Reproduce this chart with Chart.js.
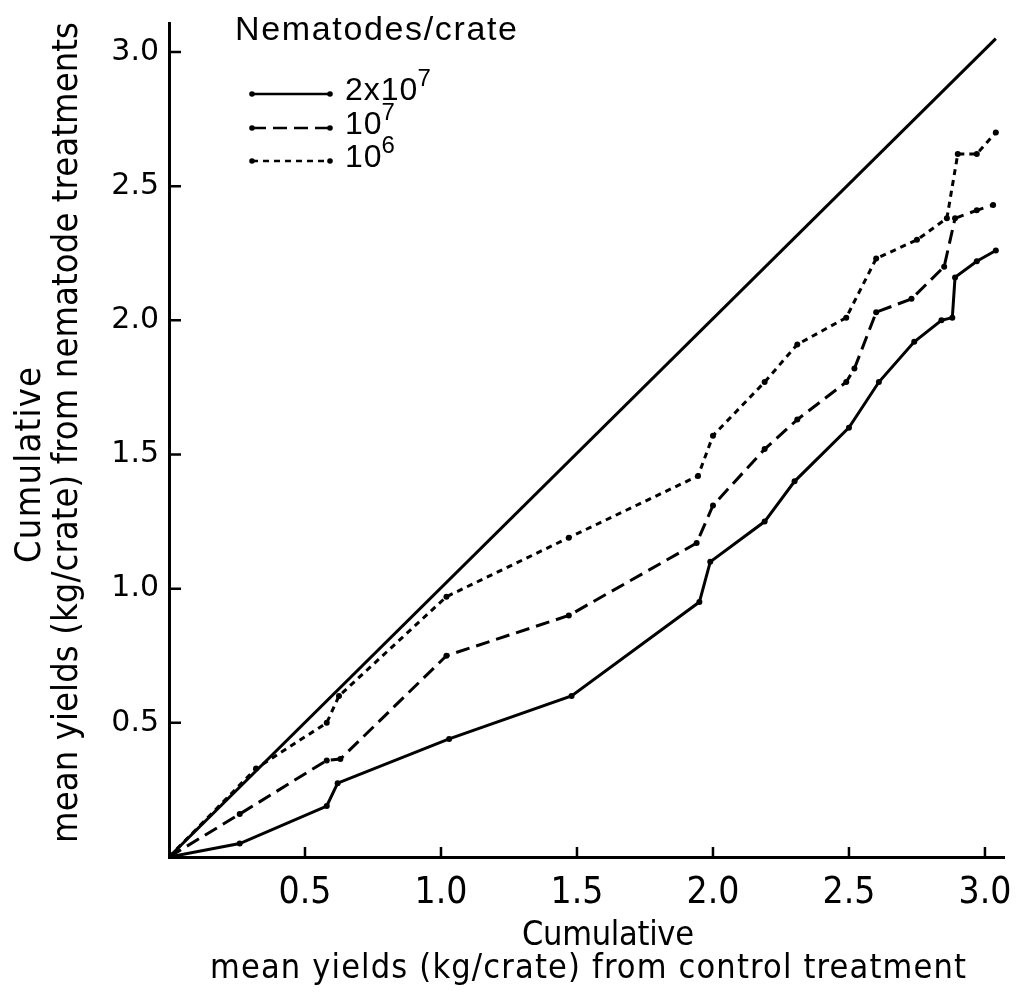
<!DOCTYPE html>
<html>
<head>
<meta charset="utf-8">
<script src="https://cdn.jsdelivr.net/npm/chart.js@4.4.1/dist/chart.umd.min.js"></script>
<style>
  html, body { margin: 0; padding: 0; background: #fff; }
  #wrap { width: 1017px; height: 993px; }
</style>
</head>
<body>
<div id="wrap"><canvas id="chart" width="1017" height="993"></canvas></div>
<script>
// cumulative mean yields: control (x) against nematode treatments (y)
const equalX = [0, 3.04];
const equalY = [0, 3.05];

// 2x10^7 nematodes/crate
const highX = [0, 0.26, 0.58, 0.62, 1.03, 1.48, 1.95, 1.99, 2.19, 2.30, 2.50, 2.61, 2.74, 2.84, 2.88, 2.89, 2.97, 3.04];
const highY = [0, 0.05, 0.19, 0.275, 0.44, 0.60, 0.95, 1.10, 1.25, 1.40, 1.60, 1.77, 1.92, 2.00, 2.01, 2.16, 2.22, 2.26];

// 10^7 nematodes/crate
const midX = [0, 0.26, 0.58, 0.63, 1.02, 1.47, 1.94, 2.00, 2.19, 2.31, 2.49, 2.52, 2.60, 2.73, 2.85, 2.89, 2.97, 3.03];
const midY = [0, 0.16, 0.36, 0.365, 0.75, 0.90, 1.17, 1.31, 1.52, 1.63, 1.77, 1.82, 2.03, 2.08, 2.20, 2.38, 2.41, 2.43];

// 10^6 nematodes/crate
const lowX = [0, 0.32, 0.58, 0.625, 1.02, 1.47, 1.945, 2.00, 2.19, 2.31, 2.49, 2.60, 2.75, 2.86, 2.90, 2.97, 3.04];
const lowY = [0, 0.33, 0.50, 0.60, 0.97, 1.19, 1.42, 1.57, 1.77, 1.91, 2.01, 2.23, 2.30, 2.38, 2.62, 2.62, 2.70];

const xTicks = [0.5, 1.0, 1.5, 2.0, 2.5, 3.0];
const yTicks = [0.5, 1.0, 1.5, 2.0, 2.5, 3.0];

const legendTitle = 'Nematodes/crate';
const seriesBase = ['2x10', '10', '10'];
const seriesExp = ['7', '7', '6'];

const xTitle = ['Cumulative', 'mean yields (kg/crate) from control treatment'];
const yTitle = ['Cumulative', 'mean yields (kg/crate) from nematode treatments'];

const NARROW = "'Liberation Sans Narrow', 'DejaVu Sans Condensed', sans-serif";
const WIDE = "'DejaVu Sans', sans-serif";
const PLAIN = "'Liberation Sans', Arial, sans-serif";

function toPoints(xs, ys) {
    return xs.map((x, i) => ({ x, y: ys[i] }));
}

function lineSet(label, xs, ys, dash, radius) {
    return {
        label,
        data: toPoints(xs, ys),
        borderColor: '#000',
        backgroundColor: '#000',
        borderWidth: 3,
        borderDash: dash,
        pointRadius: radius,
        pointBorderWidth: 0,
        pointBackgroundColor: '#000',
        tension: 0,
        fill: false
    };
}

// spread letters so a string fills a given width, drawn left to right
function fitText(ctx, text, x, y, width) {
    ctx.letterSpacing = '0px';
    const w = ctx.measureText(text).width;
    const ls = (width - w) / Math.max(1, text.length - 1);
    ctx.letterSpacing = ls + 'px';
    ctx.textAlign = 'left';
    ctx.fillText(text, x, y);
    ctx.letterSpacing = '0px';
}

// keep the plot area fixed: no extra room for overhanging labels
function zeroPadding(s) {
    s.paddingLeft = 0;
    s.paddingRight = 0;
    s.paddingTop = 0;
    s.paddingBottom = 0;
}

const decorations = {
    id: 'decorations',
    afterDraw(chart) {
        const ctx = chart.ctx;
        const { left, bottom } = chart.chartArea;
        const sx = chart.scales.x;
        const sy = chart.scales.y;

        ctx.save();
        ctx.strokeStyle = '#000';
        ctx.fillStyle = '#000';
        ctx.lineWidth = 2.5;
        ctx.setLineDash([]);

        // inward tick marks
        ctx.beginPath();
        xTicks.forEach(v => {
            const px = sx.getPixelForValue(v);
            ctx.moveTo(px, bottom);
            ctx.lineTo(px, bottom - 10);
        });
        yTicks.forEach(v => {
            const py = sy.getPixelForValue(v);
            ctx.moveTo(left, py);
            ctx.lineTo(left + 12, py);
        });
        ctx.stroke();

        // axis titles
        ctx.textBaseline = 'alphabetic';
        ctx.font = '34px ' + NARROW;
        fitText(ctx, xTitle[0], 522, 945, 172);
        fitText(ctx, xTitle[1], 210, 978, 756);

        ctx.font = '36px ' + NARROW;
        ctx.save();
        ctx.translate(40, 0);
        ctx.rotate(-Math.PI / 2);
        fitText(ctx, yTitle[0], -563, 0, 196);
        ctx.restore();
        ctx.save();
        ctx.translate(77, 0);
        ctx.rotate(-Math.PI / 2);
        fitText(ctx, yTitle[1], -843, 0, 821);
        ctx.restore();

        // legend
        ctx.font = '34px ' + PLAIN;
        fitText(ctx, legendTitle, 235, 40, 282);

        const rows = [94, 128, 161];
        chart.data.datasets.slice(1).forEach((ds, i) => {
            const y = rows[i];
            ctx.lineWidth = 2.5;
            ctx.setLineDash(ds.borderDash || []);
            ctx.beginPath();
            ctx.moveTo(252, y);
            ctx.lineTo(330, y);
            ctx.stroke();
            ctx.setLineDash([]);
            [252, 330].forEach(px => {
                ctx.beginPath();
                ctx.arc(px, y, 2.8, 0, Math.PI * 2);
                ctx.fill();
            });
            ctx.font = '32px ' + PLAIN;
            ctx.letterSpacing = '1px';
            ctx.textAlign = 'left';
            ctx.fillText(seriesBase[i], 345, y + 6);
            const bw = ctx.measureText(seriesBase[i]).width;
            ctx.font = '24px ' + PLAIN;
            ctx.fillText(seriesExp[i], 345 + bw - 1, y - 8);
            ctx.letterSpacing = '0px';
        });
        ctx.restore();
    }
};

const ctx = document.getElementById('chart').getContext('2d');
new Chart(ctx, {
    type: 'line',
    data: {
        datasets: [
            lineSet('equal yield', equalX, equalY, [], 0),
            lineSet('2x10^7', highX, highY, [], 3),
            lineSet('10^7', midX, midY, [14, 7], 3),
            lineSet('10^6', lowX, lowY, [6, 5], 3)
        ]
    },
    options: {
        responsive: false,
        animation: false,
        devicePixelRatio: 1,
        layout: { padding: { top: 23, right: 13, left: 0, bottom: 0 } },
        plugins: {
            legend: { display: false },
            tooltip: { enabled: false }
        },
        scales: {
            x: {
                type: 'linear',
                min: 0,
                max: 3.07,
                afterBuildTicks: s => { s.ticks = xTicks.map(value => ({ value })); },
                afterFit: s => { s.height = 136; zeroPadding(s); },
                grid: { display: false, drawTicks: false },
                border: { display: true, color: '#000', width: 3 },
                ticks: {
                    color: '#000',
                    font: { family: NARROW, size: 37 },
                    padding: 14,
                    maxRotation: 0,
                    autoSkip: false,
                    callback: v => v.toFixed(1)
                }
            },
            y: {
                type: 'linear',
                min: 0,
                max: 3.108,
                afterBuildTicks: s => { s.ticks = yTicks.map(value => ({ value })); },
                afterFit: s => { s.width = 169; zeroPadding(s); },
                grid: { display: false, drawTicks: false },
                border: { display: true, color: '#000', width: 3 },
                ticks: {
                    color: '#000',
                    font: { family: WIDE, size: 30 },
                    padding: 10,
                    autoSkip: false,
                    callback: v => v.toFixed(1)
                }
            }
        }
    },
    plugins: [decorations]
});
</script>
</body>
</html>
